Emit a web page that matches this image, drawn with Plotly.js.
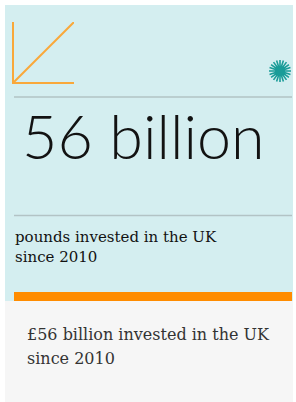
<!DOCTYPE html>
<html>
<head>
<meta charset="utf-8">
<script src="https://cdn.plot.ly/plotly-3.0.1.min.js"></script>
<style>html,body{margin:0;padding:0;background:#fff;}#chart{width:296px;height:402px;}</style>
</head>
<body>
<div id="chart"></div>
<script>
// Content values
const headlineValue = ["56 billion"];
const labelLines = ["pounds invested in the UK", "since 2010"];
const captionLines = ["£56 billion invested in the UK", "since 2010"];
// Icon trend line (rising line in a small chart icon)
const iconX = [0, 1];
const iconY = [0, 1];

const W = 296, H = 402;

// starburst path
function starburst(cx, cy, r0, r1, n) {
  let p = "";
  for (let i = 0; i < n; i++) {
    const a = (Math.PI * 2 * i) / n;
    p += `M${cx + r0 * Math.cos(a)},${cy + r0 * Math.sin(a)} L${cx + r1 * Math.cos(a)},${cy + r1 * Math.sin(a)} `;
  }
  return p;
}

const traces = [
  {
    x: iconX, y: iconY, xaxis: "x2", yaxis: "y2",
    type: "scatter", mode: "lines",
    line: { color: "#f9a83a", width: 2 },
    hoverinfo: "skip", showlegend: false
  }
];

const labelAnn = labelLines.map((t, i) => ({
  xref: "x", yref: "y", x: 13, y: 242 + i * 20 + 6, xanchor: "left", yanchor: "bottom", align: "left",
  text: t, showarrow: false,
  font: { family: "'DejaVu Serif', serif", size: 15, color: "#121212" }
}));
const captionAnn = captionLines.map((t, i) => ({
  xref: "x", yref: "y", x: 25, y: 339 + i * 24 + 7, xanchor: "left", yanchor: "bottom", align: "left",
  text: t, showarrow: false,
  font: { family: "'DejaVu Serif', serif", size: 16, color: "#333333" }
}));

const layout = {
  width: W, height: H,
  margin: { l: 0, r: 0, t: 0, b: 0 },
  paper_bgcolor: "#ffffff",
  plot_bgcolor: "rgba(0,0,0,0)",
  showlegend: false,
  xaxis: { range: [0, W], visible: false, fixedrange: true, domain: [0, 1] },
  yaxis: { range: [H, 0], visible: false, fixedrange: true, domain: [0, 1] },
  xaxis2: {
    domain: [14 / W, 74 / W], anchor: "y2", range: [0, 1],
    showline: true, linecolor: "#f9a83a", linewidth: 2,
    showgrid: false, zeroline: false, showticklabels: false, ticks: "", fixedrange: true
  },
  yaxis2: {
    domain: [1 - 82 / H, 1 - 22 / H], anchor: "x2", range: [0, 1],
    showline: true, linecolor: "#f9a83a", linewidth: 2,
    showgrid: false, zeroline: false, showticklabels: false, ticks: "", fixedrange: true
  },
  shapes: [
    { type: "rect", xref: "x", yref: "y", x0: 5, x1: 293, y0: 5, y1: 301, fillcolor: "#d4eef0", line: { width: 0 }, layer: "below" },
    { type: "rect", xref: "x", yref: "y", x0: 5, x1: 293, y0: 301, y1: 402, fillcolor: "#f6f6f6", line: { width: 0 }, layer: "below" },
    { type: "rect", xref: "x", yref: "y", x0: 14, x1: 292, y0: 292, y1: 301, fillcolor: "#ff8c00", line: { width: 0 }, layer: "below" },
    { type: "line", xref: "x", yref: "y", x0: 14, x1: 292, y0: 97, y1: 97, line: { color: "#b2c3c5", width: 1.5 }, layer: "below" },
    { type: "line", xref: "x", yref: "y", x0: 14, x1: 292, y0: 215.5, y1: 215.5, line: { color: "#b2c3c5", width: 1.5 }, layer: "below" },
    { type: "path", xref: "x", yref: "y", path: starburst(280, 71, 0, 11, 20), line: { color: "#1a9c98", width: 1.6 }, layer: "above" },
    { type: "circle", xref: "x", yref: "y", x0: 276.5, x1: 283.5, y0: 67.5, y1: 74.5, fillcolor: "#1a9c98", line: { width: 0 }, layer: "above" }
  ],
  annotations: [
    {
      xref: "x", yref: "y", x: 20, y: 174, xanchor: "left", yanchor: "bottom",
      text: headlineValue[0], showarrow: false,
      font: { family: "Lato, 'Open Sans', sans-serif", size: 61, color: "#121212", weight: 300 }
    }
  ].concat(labelAnn, captionAnn)
};

Plotly.newPlot("chart", traces, layout, { displayModeBar: false, staticPlot: true });
</script>
</body>
</html>
